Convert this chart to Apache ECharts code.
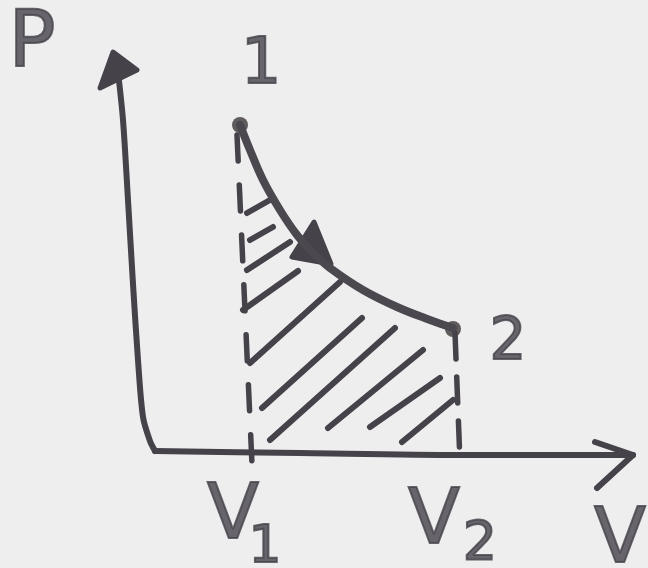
<!DOCTYPE html>
<html>
<head>
<meta charset="utf-8">
<script src="https://cdn.jsdelivr.net/npm/echarts@6/dist/echarts.min.js"></script>
<style>
  html, body { margin: 0; padding: 0; background: #efeeef; }
  #chart { width: 648px; height: 568px; }
</style>
</head>
<body>
<div id="chart"></div>
<script>
// P–V diagram of an expansion 1 → 2; the hatched area under the curve is the work done.
// All values are in sketch units (V to the right, P upward) from the axis corner.

// hand-drawn P axis, from the corner up to the arrow
const pAxisLine = [[0.03, 0.01], [-0.02, 0.11], [-0.09, 0.35], [-0.14, 0.92], [-0.19, 1.68],
                   [-0.24, 2.52], [-0.29, 3.32], [-0.34, 3.80]];
const pAxisHead = [[-0.52, 3.64], [-0.39, 4.00], [-0.15, 3.82]];
// V axis, from the corner to the open arrow
const vAxisLine = [[0.03, 0.01], [1.48, -0.01], [3.08, -0.03], [4.81, -0.03]];
const vAxisHead = [[4.43, 0.10], [4.81, -0.03], [4.45, -0.36]];

// process curve from state 1 to state 2
const processCurve = [[0.88, 3.27], [0.98, 3.02], [1.11, 2.72], [1.28, 2.42], [1.45, 2.17],
                      [1.61, 1.99], [1.78, 1.84], [2.11, 1.62], [2.45, 1.45], [2.78, 1.32],
                      [3.01, 1.24]];
const states = [[0.88, 3.27], [3.01, 1.23]];
const directionMark = [[1.62, 2.30], [1.40, 1.95], [1.79, 1.88]];

// dashed verticals at V1 and V2
const v1Line = [[0.85, 3.17], [1.00, -0.12]];
const v2Line = [[3.03, 1.19], [3.08, -0.10]];

// hatching under the curve
const hatches = [
  [[0.95, 2.39], [1.18, 2.52]],
  [[0.98, 2.12], [1.21, 2.25]],
  [[0.95, 1.82], [1.38, 2.10]],
  [[0.91, 1.42], [1.46, 1.81]],
  [[0.98, 0.89], [1.88, 1.70]],
  [[1.10, 0.44], [2.10, 1.34]],
  [[1.18, 0.12], [2.43, 1.24]],
  [[1.76, 0.24], [2.71, 1.02]],
  [[2.18, 0.25], [2.88, 0.74]],
  [[2.50, 0.10], [3.01, 0.52]]
];

// text labels: [V, P, text, size]
const labels = [
  [-1.20, 4.06, 'P', 78],
  [1.09, 3.86, '1', 64],
  [3.56, 1.08, '2', 58],
  [0.81, -0.66, 'V', 76],
  [1.13, -0.96, '1', 52],
  [2.82, -0.71, 'V', 76],
  [3.28, -0.93, '2', 54],
  [4.68, -0.90, 'V', 76]
];

const INK = '#45424a';

function lineSeries(data, extra) {
  return Object.assign({
    type: 'line', data: data, symbol: 'none', silent: true, animation: false,
    lineStyle: { color: INK, width: 6, cap: 'round', join: 'round' }
  }, extra || {});
}

function polygonSeries(points, filled) {
  return {
    type: 'custom', data: points, silent: true, animation: false, clip: false,
    renderItem: function (params, api) {
      if (params.dataIndex !== 0) return null;
      const pts = points.map(function (p) { return api.coord(p); });
      return {
        type: 'polygon',
        shape: { points: pts },
        style: { fill: filled ? INK : 'none', stroke: INK, lineWidth: 5, lineJoin: 'round' }
      };
    }
  };
}

const series = [];
series.push(lineSeries(pAxisLine, { smooth: 0.3 }));
series.push(lineSeries(vAxisLine, { smooth: 0.3 }));
series.push(polygonSeries(pAxisHead, true));
series.push(lineSeries(vAxisHead));
hatches.forEach(function (h) { series.push(lineSeries(h)); });
series.push(lineSeries(v1Line, { lineStyle: { color: INK, width: 5.5, type: [26, 24], cap: 'round' } }));
series.push(lineSeries(v2Line, { lineStyle: { color: INK, width: 5.5, type: [26, 18], cap: 'round' } }));
series.push(lineSeries(processCurve, { smooth: 0.4, lineStyle: { color: '#4b4850', width: 8, cap: 'round' } }));
series.push(polygonSeries(directionMark, true));
series.push({
  type: 'scatter', data: states, symbol: 'circle', symbolSize: 16, silent: true, animation: false,
  itemStyle: { color: '#3d3737' }
});
series.push({
  type: 'scatter', silent: true, animation: false,
  data: labels.map(function (l) {
    return {
      value: [l[0], l[1]],
      label: { show: true, position: 'inside', formatter: l[2], fontSize: l[3],
               color: INK, fontFamily: 'DejaVu Sans',
               textBorderColor: INK, textBorderWidth: 2 }
    };
  }),
  symbolSize: 1, itemStyle: { color: 'rgba(0,0,0,0)' }
});

const chart = echarts.init(document.getElementById('chart'), null, { renderer: 'canvas' });
chart.setOption({
  backgroundColor: '#efeeef',
  animation: false,
  grid: { left: 0, right: 0, top: 0, bottom: 0 },
  xAxis: { type: 'value', min: -1.52, max: 4.96, show: false },
  yAxis: { type: 'value', min: -1.16, max: 4.52, show: false },
  series: series
});
</script>
</body>
</html>
